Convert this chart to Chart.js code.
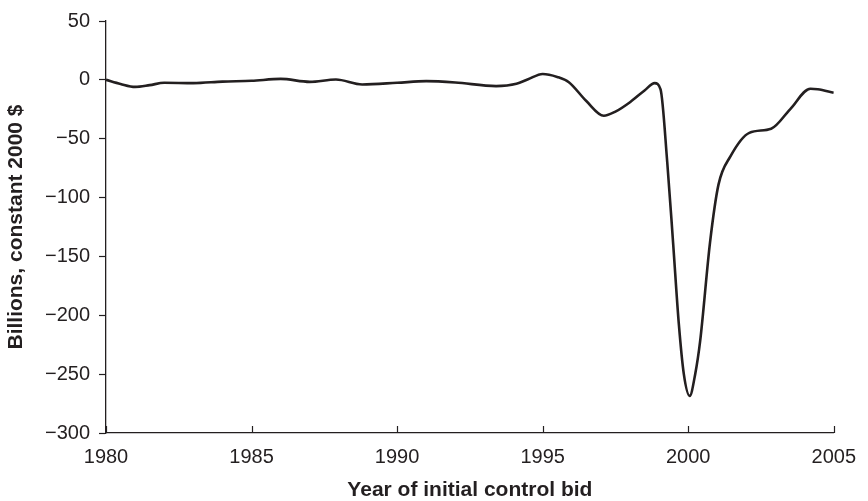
<!DOCTYPE html>
<html>
<head>
<meta charset="utf-8">
<script src="https://cdn.jsdelivr.net/npm/chart.js@4"></script>
<style>
  html, body { margin: 0; padding: 0; background: #fff; }
  #wrap { width: 868px; height: 501px; }
</style>
</head>
<body>
<div id="wrap"><canvas id="bidChart" width="868" height="501"></canvas></div>
<script>
// Values (billions, constant 2000 $)
const years = [1980, 1980.5, 1981, 1981.5, 1982, 1983, 1984, 1985, 1986, 1987, 1987.9, 1988.8,
    1990, 1991, 1992, 1993.4, 1994.1, 1994.5, 1995, 1995.5, 1995.9, 1996.5, 1997.1, 1997.5,
    1998, 1998.5, 1998.85, 1999.05, 1999.28, 1999.48, 1999.68, 1999.85, 2000.05, 2000.24,
    2000.41, 2000.75, 2001.04, 2001.45, 2002.1, 2002.85, 2003.5, 2004.2, 2004.45, 2005];
const values = [0, -3.5, -6, -4.5, -2.5, -2.8, -1.5, -0.8, 0.8, -1.7, 0.3, -3.9,
    -2.5, -1.1, -2.2, -5.3, -3.4, 0.5, 5, 2.5, -2, -18, -30.5, -27,
    -19, -9, -2.8, -8, -70, -138, -208, -250, -268.5, -250,
    -222, -138, -89, -65, -45, -41.5, -25, -7.5, -8, -11];
const xTicks = [1980, 1985, 1990, 1995, 2000, 2005];
const yTicks = [50, 0, -50, -100, -150, -200, -250, -300];

const ink = '#231f20';
const fontFamily = '"Liberation Sans", Arial, Helvetica, sans-serif';

// x ticks point inward in the reference, so draw them here
const innerTicks = {
    id: 'innerTicks',
    afterDraw(chart) {
        const x = chart.scales.x;
        const c = chart.ctx;
        c.save();
        c.strokeStyle = ink;
        c.lineWidth = 1.2;
        xTicks.forEach(v => {
            const px = Math.round(x.getPixelForValue(v)) + 0.5;
            c.beginPath();
            c.moveTo(px, x.top);
            c.lineTo(px, x.top - 7);
            c.stroke();
        });
        c.restore();
    }
};

new Chart(document.getElementById('bidChart').getContext('2d'), {
    type: 'line',
    data: {
        datasets: [{
            data: years.map((yr, i) => ({ x: yr, y: values[i] })),
            borderColor: ink,
            borderWidth: 2.6,
            pointRadius: 0,
            fill: false,
            cubicInterpolationMode: 'monotone'
        }]
    },
    options: {
        responsive: false,
        animation: false,
        layout: { padding: { top: 16, right: 26, bottom: 0, left: 0 } },
        plugins: { legend: { display: false }, tooltip: { enabled: false } },
        scales: {
            x: {
                type: 'linear',
                min: 1980,
                max: 2005,
                afterFit: s => { s.height = 68; },
                afterBuildTicks: s => { s.ticks = xTicks.map(v => ({ value: v })); },
                border: { color: ink, width: 1.3 },
                grid: { display: false, drawTicks: false },
                ticks: {
                    color: ink,
                    padding: 12,
                    maxRotation: 0,
                    font: { family: fontFamily, size: 20 },
                    callback: v => String(v)
                },
                title: {
                    display: true,
                    text: 'Year of initial control bid',
                    color: ink,
                    padding: { top: 0, bottom: -1.5 },
                    font: { family: fontFamily, size: 21, weight: 'bold' }
                }
            },
            y: {
                min: -300,
                max: 50,
                afterFit: s => { s.width = 106; },
                afterBuildTicks: s => { s.ticks = yTicks.map(v => ({ value: v })); },
                border: { color: ink, width: 1.3 },
                grid: { drawOnChartArea: false, drawTicks: true, tickLength: 7, tickColor: ink, tickWidth: 1.2 },
                ticks: {
                    color: ink,
                    padding: 9,
                    font: { family: fontFamily, size: 20 },
                    callback: v => (v < 0 ? '\u2212' + Math.abs(v) : String(v))
                },
                title: {
                    display: true,
                    text: 'Billions, constant 2000 $',
                    color: ink,
                    padding: { top: 4, bottom: 0 },
                    font: { family: fontFamily, size: 21, weight: 'bold' }
                }
            }
        }
    },
    plugins: [innerTicks]
});
</script>
</body>
</html>
